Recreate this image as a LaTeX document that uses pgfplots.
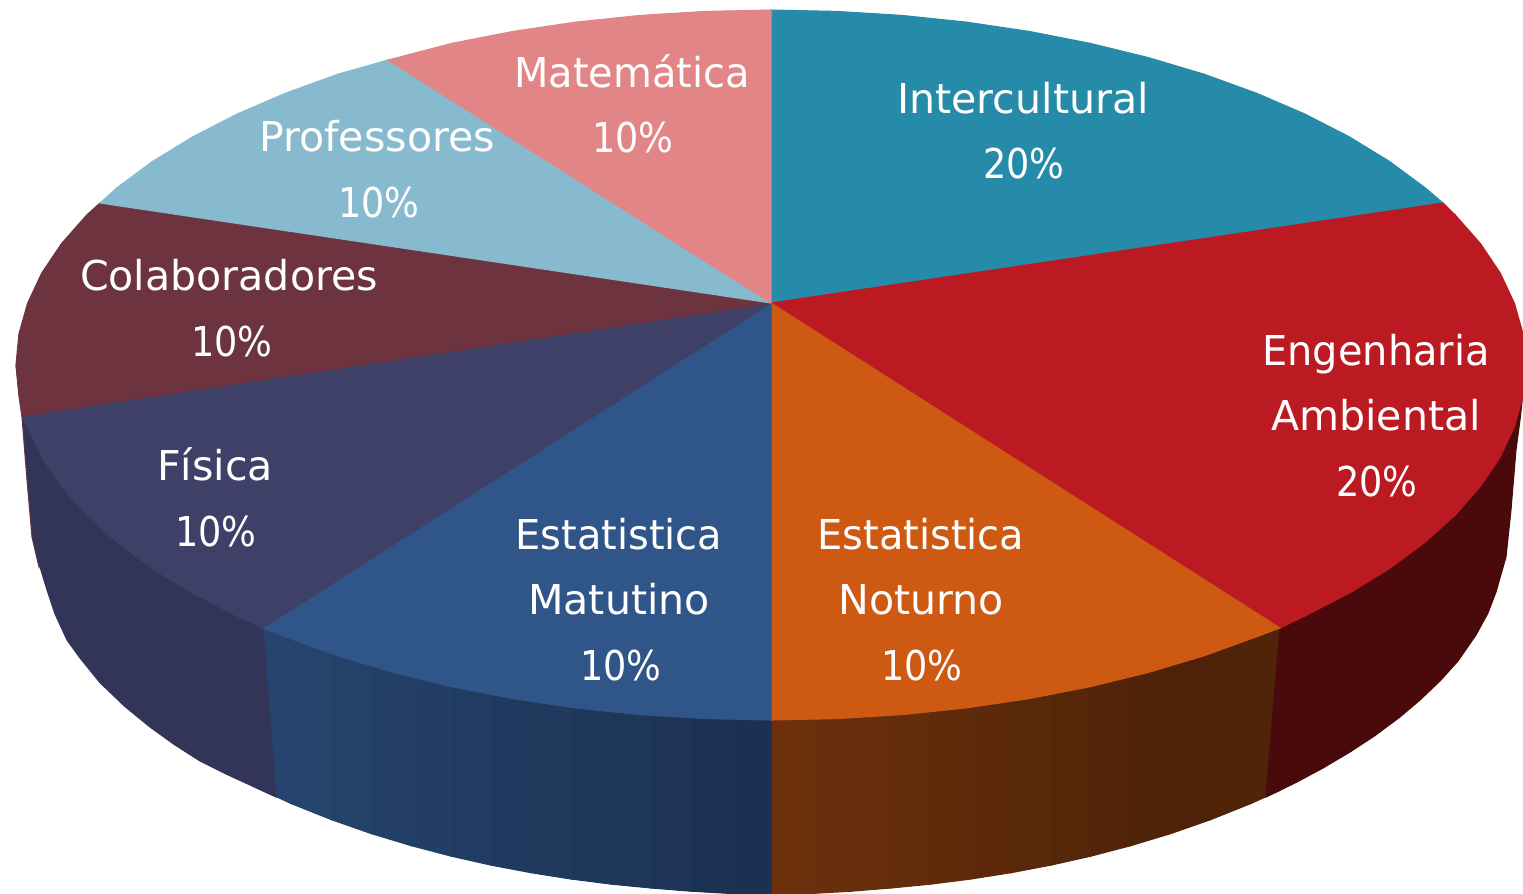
\documentclass[border=0pt]{standalone}
\usepackage{pgfplots}
\pgfplotsset{compat=1.18}
\usepackage{fontspec}
\setmainfont{DejaVu Sans}

% one vertical band of the pie's wall: x1 x2, bottom y at x1 and x2, r g b
\newcommand{\band}[7]{\addplot[fill={rgb,255:red,#5;green,#6;blue,#7},draw={rgb,255:red,#5;green,#6;blue,#7},line width=.3pt]
  coordinates {(#1,600)(#2,600)(#2,#4)(#1,#3)(#1,600)};}
% the percentages are narrower than DejaVu's digits
\newcommand{\pct}[1]{\scalebox{.89}[1]{#1\%}}
\newcommand{\nar}[1]{\scalebox{.97}[1]{#1}}

\tikzset{lab/.style={anchor=base,text=white,inner sep=0pt,font=\fontsize{11.7}{14}\selectfont}}
\pgfplotsset{wedge/.style={fill=#1,draw=#1,line width=.3pt}}

\definecolor{cteal}{RGB}{38,139,168}
\definecolor{cred}{RGB}{188,26,34}
\definecolor{corange}{RGB}{205,89,19}
\definecolor{cblue}{RGB}{48,86,137}
\definecolor{cindigo}{RGB}{63,64,104}
\definecolor{cmaroon}{RGB}{109,51,63}
\definecolor{clight}{RGB}{135,186,206}
\definecolor{cpink}{RGB}{226,133,134}
\definecolor{credside}{RGB}{74,10,12}
\definecolor{cindside}{RGB}{51,53,88}

\begin{document}
\begin{tikzpicture}
\begin{axis}[
    scale only axis,
    width=15.23cm,
    height=8.93cm,
    xmin=0, xmax=1523,
    ymin=0, ymax=893,
    y dir=reverse,
    axis line style={draw=none},
    xtick=\empty, ytick=\empty,
]
% wall, orange part
\band{771}{811}{895}{893.5}{108}{48}{12}
\band{811}{851}{893.5}{891.2}{105}{47}{12}
\band{851}{891}{891.2}{888}{102}{46}{11}
\band{891}{931}{888}{884.1}{99}{44}{11}
\band{931}{971}{884.1}{879}{96}{43}{10}
\band{971}{1011}{879}{872.7}{93}{41}{10}
\band{1011}{1051}{872.7}{865.1}{90}{40}{10}
\band{1051}{1091}{865.1}{856.1}{86}{38}{9}
\band{1091}{1131}{856.1}{845.6}{83}{36}{9}
\band{1131}{1171}{845.6}{833.5}{79}{35}{8}
\band{1171}{1211}{833.5}{819.5}{78}{34}{8}
\band{1211}{1251}{819.5}{803.5}{79}{35}{8}
\band{1251}{1280}{803.5}{790.4}{80}{36}{9}
% wall, blue part
\band{731}{771}{893.5}{895}{27}{49}{81}
\band{691}{731}{891.2}{893.5}{28}{50}{83}
\band{651}{691}{888}{891.2}{29}{52}{86}
\band{611}{651}{884.1}{888}{30}{54}{88}
\band{571}{611}{879}{884.1}{31}{55}{90}
\band{531}{571}{872.7}{879}{32}{57}{93}
\band{491}{531}{865.1}{872.7}{32}{58}{95}
\band{451}{491}{856.1}{865.1}{33}{60}{97}
\band{411}{451}{845.6}{856.1}{34}{62}{100}
\band{371}{411}{833.5}{845.6}{35}{63}{102}
\band{331}{371}{819.5}{833.5}{36}{65}{104}
\band{291}{331}{803.5}{819.5}{37}{67}{107}
\band{263}{291}{790.4}{803.5}{38}{68}{109}
% wall, the others
\addplot[wedge=cmaroon] coordinates {(16,365)(22,417)(27,480)(32,537)(39,567)(80,500)(16,365)};
\addplot[wedge=cindside] coordinates {(263,628)(276,797)(250,785)(225,773.5)(200,761)(175,745)(150,727)(125,706.6)(100,682.7)(80,658)(67,640)(55,614)(47,590)(40,567)(36,552)(33,537)(28,480)(23,417)(263,628)};
\addplot[wedge=credside] coordinates {(1280,628)(1266,797)(1296,782.5)(1323,768)(1350,752)(1375,735.6)(1400,717)(1420,700)(1440,681)(1458,661)(1476,635)(1488,613)(1496,592)(1506,557)(1511,510)(1516,450)(1520,420)(1523,393)(1523,380)(1280,628)};

% top face
\addplot[wedge=cteal] coordinates {(771,303)(771,10)(836.8,11.4)(902.1,15.4)(966.4,22.1)(1029.2,31.4)(1090.1,43.3)(1148.5,57.6)(1204.1,74.2)(1256.3,93.1)(1304.9,114)(1349.3,136.8)(1389.5,161.4)(1424.8,187.5)(1443,203)(771,303)};
\addplot[wedge=cred] coordinates {(771,303)(1443,203)(1455.3,215)(1480.5,243.6)(1500.3,273.1)(1514.5,303.4)(1523.1,334)(1526,365)(1523.1,396)(1514.5,426.6)(1500.3,456.9)(1480.5,486.4)(1455.3,515)(1424.8,542.5)(1389.5,568.6)(1349.3,593.2)(1304.9,616)(1280,628)(771,303)};
\addplot[wedge=corange] coordinates {(771,303)(1280,628)(1256.3,636.9)(1204.1,655.8)(1148.5,672.4)(1090.1,686.7)(1029.2,698.6)(966.4,707.9)(902.1,714.6)(836.8,718.6)(771,720)(771,303)};
\addplot[wedge=cblue] coordinates {(771,303)(771,720)(705.2,718.6)(639.9,714.6)(575.6,707.9)(512.8,698.6)(451.9,686.7)(393.5,672.4)(337.9,655.8)(285.7,636.9)(263,628)(771,303)};
\addplot[wedge=cindigo] coordinates {(771,303)(263,628)(237.1,616)(192.7,593.2)(152.5,568.6)(117.2,542.5)(86.7,515)(61.5,486.4)(41.7,456.9)(27.5,426.6)(22,416)(771,303)};
\addplot[wedge=cmaroon] coordinates {(771,303)(22,416)(18.9,396)(16,365)(18.9,334)(27.5,303.4)(41.7,273.1)(61.5,243.6)(86.7,215)(100,203)(771,303)};
\addplot[wedge=clight] coordinates {(771,303)(100,203)(117.2,187.5)(152.5,161.4)(192.7,136.8)(237.1,114)(285.7,93.1)(337.9,74.2)(388,60)(771,303)};
\addplot[wedge=cpink] coordinates {(771,303)(388,60)(451.9,43.3)(512.8,31.4)(575.6,22.1)(639.9,15.4)(705.2,11.4)(771,10)(771,303)};

% labels
\node[lab] at (axis cs:632,87.5) {\nar{Matemática}};
\node[lab] at (axis cs:633,152.5) {\pct{10}};
\node[lab] at (axis cs:1023,113.5) {Intercultural};
\node[lab] at (axis cs:1024,178.5) {\pct{20}};
\node[lab] at (axis cs:377,151.5) {Professores};
\node[lab] at (axis cs:379,217.5) {\pct{10}};
\node[lab] at (axis cs:229,290.5) {Colaboradores};
\node[lab] at (axis cs:232,356.5) {\pct{10}};
\node[lab] at (axis cs:1376,365.5) {\nar{Engenharia}};
\node[lab] at (axis cs:1376,430.5) {Ambiental};
\node[lab] at (axis cs:1377,496.5) {\pct{20}};
\node[lab] at (axis cs:215,480.5) {Física};
\node[lab] at (axis cs:216,546.5) {\pct{10}};
\node[lab] at (axis cs:619,549.5) {\nar{Estatistica}};
\node[lab] at (axis cs:619,614.5) {Matutino};
\node[lab] at (axis cs:621,680.5) {\pct{10}};
\node[lab] at (axis cs:921,549.5) {\nar{Estatistica}};
\node[lab] at (axis cs:921,614.5) {Noturno};
\node[lab] at (axis cs:922,680.5) {\pct{10}};
\end{axis}
\end{tikzpicture}
\end{document}
